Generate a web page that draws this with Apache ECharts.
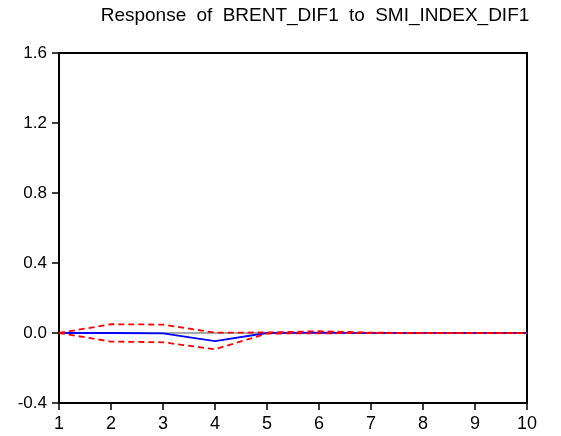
<!DOCTYPE html>
<html><head><meta charset="utf-8">
<script src="https://cdn.jsdelivr.net/npm/echarts@6/dist/echarts.min.js"></script>
<style>html,body{margin:0;padding:0;background:#fff}#c{width:561px;height:436px}</style>
</head><body><div id="c"></div>
<script>
const periods = [1,2,3,4,5,6,7,8,9,10];
const response = [0, 0, -0.002, -0.047, 0, 0.002, 0, 0, 0, 0];
const upperBand = [0, 0.05, 0.048, 0.002, 0.003, 0.01, 0.002, 0, 0, 0];
const lowerBand = [0, -0.049, -0.053, -0.093, -0.003, -0.002, 0, 0, 0, 0];
const zeroLine = [0, 0, 0, 0, 0, 0, 0, 0, 0, 0];
const yTicks = [-0.4, 0.0, 0.4, 0.8, 1.2, 1.6];
const titleText = 'Response of BRENT_DIF1 to SMI_INDEX_DIF1';

const pair = arr => periods.map((p, i) => [p, arr[i]]);
const richTitle = titleText.split(' ').map(w => '{w|' + w + '}').join(' ');
const FONT = 'Liberation Sans, Arial';
const chart = echarts.init(document.getElementById('c'), null, {renderer: 'canvas'});
chart.setOption({
  animation: false,
  title: {text: richTitle, left: 310, top: 1, textAlign: 'center',
    textStyle: {fontFamily: FONT, fontSize: 19, fontWeight: 'normal', color: '#000',
      rich: {w: {fontFamily: FONT, fontSize: 19, color: '#000', padding: [0, 2.5]}}}},
  grid: {left: 59, right: 34, top: 53, bottom: 33, show: true, borderColor: '#000', borderWidth: 2, backgroundColor: '#fff'},
  xAxis: {type: 'value', min: 1, max: 10, interval: 1,
    axisLine: {show: true, onZero: false, lineStyle: {color: '#000', width: 2}},
    axisTick: {show: true, inside: false, length: 7, lineStyle: {color: '#000', width: 1.5}},
    axisLabel: {color: '#000', fontFamily: FONT, fontSize: 18, margin: 12},
    splitLine: {show: false}},
  yAxis: {type: 'value', min: yTicks[0], max: yTicks[yTicks.length-1], interval: 0.4,
    axisLine: {show: true, lineStyle: {color: '#000', width: 2}},
    axisTick: {show: true, inside: false, length: 7, lineStyle: {color: '#000', width: 1.5}},
    axisLabel: {color: '#000', fontFamily: FONT, fontSize: 17, margin: 12,
      verticalAlign: 'middle', padding: [0, 0, 8, 0],
      formatter: v => v.toFixed(1)},
    splitLine: {show: false}},
  series: [
    {type: 'line', data: pair(zeroLine), symbol: 'none', lineStyle: {color: '#555', width: 1}, z: 1},
    {type: 'line', data: pair(upperBand), symbol: 'none', lineStyle: {color: '#ff0000', width: 1.8, type: [6, 4]}, z: 3},
    {type: 'line', data: pair(lowerBand), symbol: 'none', lineStyle: {color: '#ff0000', width: 1.8, type: [6, 4]}, z: 3},
    {type: 'line', data: pair(response), symbol: 'none', lineStyle: {color: '#0000ff', width: 1.8}, z: 2}
  ]
});
</script></body></html>
